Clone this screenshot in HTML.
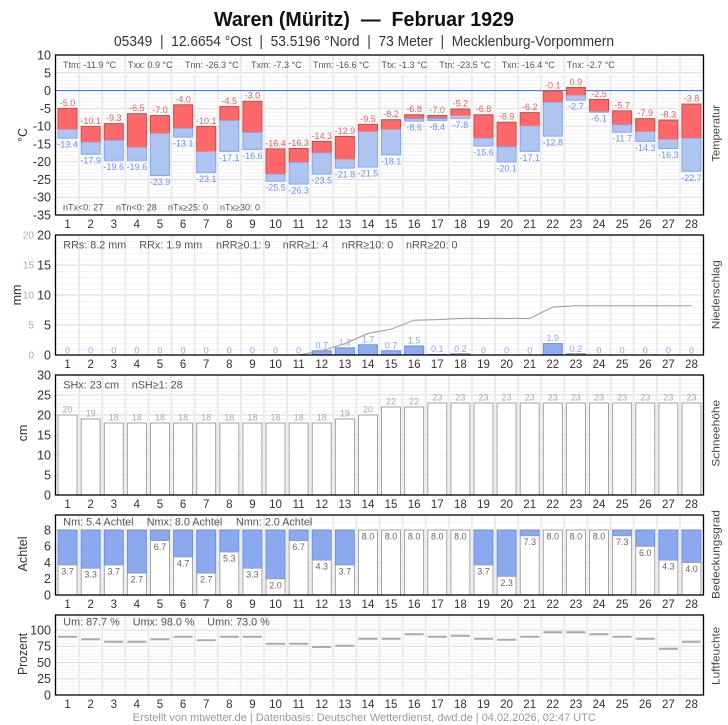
<!DOCTYPE html>
<html><head><meta charset="utf-8">
<style>
html,body{margin:0;padding:0;background:#fff;}
svg{display:block;}
text{font-family:"Liberation Sans",Arial,sans-serif;}
.dl{font-size:11.5px;fill:#333;text-anchor:middle}
.tr{font-size:9px;fill:#e06060;text-anchor:middle}
.tb{font-size:9px;fill:#7090e8;text-anchor:middle}
.pl{font-size:9px;fill:#8aa5ee;text-anchor:middle}
.sl{font-size:9px;fill:#aaa;text-anchor:middle}
.cl{font-size:9px;fill:#666;text-anchor:middle}
.st{font-size:9px;fill:#555}
.st2{font-size:10.8px;fill:#555}
.yl{font-size:12.5px;fill:#333;text-anchor:end}
.yg{font-size:10px;fill:#aaa;text-anchor:end}
.rl{font-size:11px;fill:#444;text-anchor:middle}
.ll{font-size:12.5px;fill:#333;text-anchor:middle}
.r{fill:#ff6868;stroke:#d04848;stroke-width:1}
.b{fill:#aec5f2;stroke:#86a6ea;stroke-width:1}
.p{fill:#8eacef;stroke:#6a8de3;stroke-width:1}
.s{fill:#fff;stroke:#a0a0a0;stroke-width:1}
.cb{fill:#8aa9ee;stroke:#6d8fe3;stroke-width:1}
.h{stroke:#aaa;stroke-width:2}
.mj{stroke:#dedede;stroke-width:1}
.pre{white-space:pre}
</style></head>
<body>
<svg width="728" height="725" viewBox="0 0 728 725" xmlns="http://www.w3.org/2000/svg">
<defs>
<pattern id="mt" x="0" y="55" width="20" height="3.5556" patternUnits="userSpaceOnUse"><rect x="0" y="0" width="20" height="0.8" fill="#f1f1f1"/></pattern>
<pattern id="mp" x="0" y="235" width="20" height="6" patternUnits="userSpaceOnUse"><rect x="0" y="0" width="20" height="0.8" fill="#f1f1f1"/></pattern>
<pattern id="ms" x="0" y="375" width="20" height="4" patternUnits="userSpaceOnUse"><rect x="0" y="0" width="20" height="0.8" fill="#f1f1f1"/></pattern>
<pattern id="mc" x="0" y="595" width="20" height="8.125" patternUnits="userSpaceOnUse"><rect x="0" y="0" width="20" height="0.8" fill="#f1f1f1"/></pattern>
<pattern id="mh" x="0" y="695" width="20" height="3.25" patternUnits="userSpaceOnUse"><rect x="0" y="0" width="20" height="0.8" fill="#f1f1f1"/></pattern>
</defs>
<rect width="728" height="725" fill="#fff"/>

<!-- Title -->
<text class="pre" x="364" y="26" text-anchor="middle" font-size="20" font-weight="bold" fill="#111" textLength="300" lengthAdjust="spacingAndGlyphs">Waren (Müritz)  —  Februar 1929</text>
<text class="pre" x="364" y="46" text-anchor="middle" font-size="14.5" fill="#333" textLength="500" lengthAdjust="spacingAndGlyphs">05349  |  12.6654 °Ost  |  53.5196 °Nord  |  73 Meter  |  Mecklenburg-Vorpommern</text>

<!-- minor grids -->
<rect x="56" y="55" width="647" height="160" fill="url(#mt)"/>
<rect x="56" y="235" width="647" height="120" fill="url(#mp)"/>
<rect x="56" y="375" width="647" height="120" fill="url(#ms)"/>
<rect x="56" y="515" width="647" height="80" fill="url(#mc)"/>
<rect x="56" y="615" width="647" height="80" fill="url(#mh)"/>

<!-- major grids -->
<path class="mj" d="M56 72.78H703M56 108.33H703M56 126.11H703M56 143.89H703M56 161.67H703M56 179.44H703M56 197.22H703
M56 265H703M56 295H703M56 325H703
M56 395H703M56 415H703M56 435H703M56 455H703M56 475H703
M56 530H703M56 546.25H703M56 562.5H703M56 578.75H703
M56 630H703M56 646.25H703M56 662.5H703M56 678.75H703"/>

<!-- vertical day lines -->
<path stroke="#ebebeb" stroke-width="2" d="M79.11 55V695M102.21 55V695M125.32 55V695M148.43 55V695M171.54 55V695M194.64 55V695M217.75 55V695M240.86 55V695M263.96 55V695M287.07 55V695M310.18 55V695M333.29 55V695M356.39 55V695M379.5 55V695M402.61 55V695M425.71 55V695M448.82 55V695M471.93 55V695M495.04 55V695M518.14 55V695M541.25 55V695M564.36 55V695M587.46 55V695M610.57 55V695M633.68 55V695M656.79 55V695M679.89 55V695"/>
<rect x="50" y="215.7" width="660" height="18.6" fill="#fff"/>
<rect x="50" y="355.7" width="660" height="18.6" fill="#fff"/>
<rect x="50" y="495.7" width="660" height="18.6" fill="#fff"/>
<rect x="50" y="595.7" width="660" height="18.6" fill="#fff"/>

<!-- zero line -->
<line x1="56" x2="703" y1="90.56" y2="90.56" stroke="#5a7fd8" stroke-width="1.2"/>

<!-- cumulative precipitation -->
<polyline fill="none" stroke="#9a9a9a" stroke-width="1" points="298.63,355 321.73,350.8 344.84,343.6 367.95,333.4 391.05,329.2 414.16,320.2 437.27,319.6 460.38,318.4 483.48,318.4 506.59,318.4 529.7,318.4 552.8,307 575.91,305.8 599.02,305.8 622.13,305.8 645.23,305.8 668.34,305.8 691.45,305.8"/>

<!-- Day groups -->
<g transform="translate(67.55 0)">
<rect class="r" x="-9.5" y="108.33" width="19" height="20.98"/><rect class="b" x="-9.5" y="129.31" width="19" height="8.89"/>
<text class="tr" y="105.8">-5.0</text><text class="tb" y="147.7">-13.4</text><text class="dl" y="228">1</text>
<text class="pl" y="353.5">0</text><text class="dl" y="368">1</text>
<rect class="s" x="-9.5" y="415" width="19" height="80"/><text class="sl" y="412.5">20</text><text class="dl" y="508">1</text>
<rect class="cb" x="-9.5" y="530" width="19" height="34.94"/><rect class="s" x="-9.5" y="564.94" width="19" height="30.06"/><text class="cl" y="574.4">3.7</text><text class="dl" y="608">1</text>
<line class="h" x1="-9.5" x2="9.5" y1="636.7" y2="636.7"/><text class="dl" y="708">1</text>
</g>
<g transform="translate(90.66 0)">
<rect class="r" x="-9.5" y="126.47" width="19" height="15.64"/><rect class="b" x="-9.5" y="142.11" width="19" height="12.09"/>
<text class="tr" y="124">-10.1</text><text class="tb" y="163.7">-17.9</text><text class="dl" y="228">2</text>
<text class="pl" y="353.5">0</text><text class="dl" y="368">2</text>
<rect class="s" x="-9.5" y="419" width="19" height="76"/><text class="sl" y="416.5">19</text><text class="dl" y="508">2</text>
<rect class="cb" x="-9.5" y="530" width="19" height="38.19"/><rect class="s" x="-9.5" y="568.19" width="19" height="26.81"/><text class="cl" y="577.7">3.3</text><text class="dl" y="608">2</text>
<line class="h" x1="-9.5" x2="9.5" y1="639.3" y2="639.3"/><text class="dl" y="708">2</text>
</g>
<g transform="translate(113.77 0)">
<rect class="r" x="-9.5" y="123.62" width="19" height="16.71"/><rect class="b" x="-9.5" y="140.33" width="19" height="19.92"/>
<text class="tr" y="121.1">-9.3</text><text class="tb" y="169.8">-19.6</text><text class="dl" y="228">3</text>
<text class="pl" y="353.5">0</text><text class="dl" y="368">3</text>
<rect class="s" x="-9.5" y="423" width="19" height="72"/><text class="sl" y="420.5">18</text><text class="dl" y="508">3</text>
<rect class="cb" x="-9.5" y="530" width="19" height="34.94"/><rect class="s" x="-9.5" y="564.94" width="19" height="30.06"/><text class="cl" y="574.4">3.7</text><text class="dl" y="608">3</text>
<line class="h" x1="-9.5" x2="9.5" y1="641.7" y2="641.7"/><text class="dl" y="708">3</text>
</g>
<g transform="translate(136.87 0)">
<rect class="r" x="-9.5" y="113.67" width="19" height="33.42"/><rect class="b" x="-9.5" y="147.09" width="19" height="13.16"/>
<text class="tr" y="111.2">-6.5</text><text class="tb" y="169.8">-19.6</text><text class="dl" y="228">4</text>
<text class="pl" y="353.5">0</text><text class="dl" y="368">4</text>
<rect class="s" x="-9.5" y="423" width="19" height="72"/><text class="sl" y="420.5">18</text><text class="dl" y="508">4</text>
<rect class="cb" x="-9.5" y="530" width="19" height="43.06"/><rect class="s" x="-9.5" y="573.06" width="19" height="21.94"/><text class="cl" y="582.6">2.7</text><text class="dl" y="608">4</text>
<line class="h" x1="-9.5" x2="9.5" y1="641.7" y2="641.7"/><text class="dl" y="708">4</text>
</g>
<g transform="translate(159.98 0)">
<rect class="r" x="-9.5" y="115.44" width="19" height="17.78"/><rect class="b" x="-9.5" y="133.22" width="19" height="42.31"/>
<text class="tr" y="112.9">-7.0</text><text class="tb" y="185">-23.9</text><text class="dl" y="228">5</text>
<text class="pl" y="353.5">0</text><text class="dl" y="368">5</text>
<rect class="s" x="-9.5" y="423" width="19" height="72"/><text class="sl" y="420.5">18</text><text class="dl" y="508">5</text>
<rect class="cb" x="-9.5" y="530" width="19" height="10.56"/><rect class="s" x="-9.5" y="540.56" width="19" height="54.44"/><text class="cl" y="550.1">6.7</text><text class="dl" y="608">5</text>
<line class="h" x1="-9.5" x2="9.5" y1="639.3" y2="639.3"/><text class="dl" y="708">5</text>
</g>
<g transform="translate(183.09 0)">
<rect class="r" x="-9.5" y="104.78" width="19" height="23.47"/><rect class="b" x="-9.5" y="128.25" width="19" height="8.89"/>
<text class="tr" y="102.3">-4.0</text><text class="tb" y="146.6">-13.1</text><text class="dl" y="228">6</text>
<text class="pl" y="353.5">0</text><text class="dl" y="368">6</text>
<rect class="s" x="-9.5" y="423" width="19" height="72"/><text class="sl" y="420.5">18</text><text class="dl" y="508">6</text>
<rect class="cb" x="-9.5" y="530" width="19" height="26.81"/><rect class="s" x="-9.5" y="556.81" width="19" height="38.19"/><text class="cl" y="566.3">4.7</text><text class="dl" y="608">6</text>
<line class="h" x1="-9.5" x2="9.5" y1="636.7" y2="636.7"/><text class="dl" y="708">6</text>
</g>
<g transform="translate(206.2 0)">
<rect class="r" x="-9.5" y="126.47" width="19" height="24.89"/><rect class="b" x="-9.5" y="151.36" width="19" height="21.33"/>
<text class="tr" y="124">-10.1</text><text class="tb" y="182.2">-23.1</text><text class="dl" y="228">7</text>
<text class="pl" y="353.5">0</text><text class="dl" y="368">7</text>
<rect class="s" x="-9.5" y="423" width="19" height="72"/><text class="sl" y="420.5">18</text><text class="dl" y="508">7</text>
<rect class="cb" x="-9.5" y="530" width="19" height="43.06"/><rect class="s" x="-9.5" y="573.06" width="19" height="21.94"/><text class="cl" y="582.6">2.7</text><text class="dl" y="608">7</text>
<line class="h" x1="-9.5" x2="9.5" y1="640.3" y2="640.3"/><text class="dl" y="708">7</text>
</g>
<g transform="translate(229.3 0)">
<rect class="r" x="-9.5" y="106.56" width="19" height="13.86"/><rect class="b" x="-9.5" y="120.42" width="19" height="30.94"/>
<text class="tr" y="104.1">-4.5</text><text class="tb" y="160.9">-17.1</text><text class="dl" y="228">8</text>
<text class="pl" y="353.5">0</text><text class="dl" y="368">8</text>
<rect class="s" x="-9.5" y="423" width="19" height="72"/><text class="sl" y="420.5">18</text><text class="dl" y="508">8</text>
<rect class="cb" x="-9.5" y="530" width="19" height="21.94"/><rect class="s" x="-9.5" y="551.94" width="19" height="43.06"/><text class="cl" y="561.4">5.3</text><text class="dl" y="608">8</text>
<line class="h" x1="-9.5" x2="9.5" y1="636.7" y2="636.7"/><text class="dl" y="708">8</text>
</g>
<g transform="translate(252.41 0)">
<rect class="r" x="-9.5" y="101.22" width="19" height="31.29"/><rect class="b" x="-9.5" y="132.51" width="19" height="17.07"/>
<text class="tr" y="98.7">-3.0</text><text class="tb" y="159.1">-16.6</text><text class="dl" y="228">9</text>
<text class="pl" y="353.5">0</text><text class="dl" y="368">9</text>
<rect class="s" x="-9.5" y="423" width="19" height="72"/><text class="sl" y="420.5">18</text><text class="dl" y="508">9</text>
<rect class="cb" x="-9.5" y="530" width="19" height="38.19"/><rect class="s" x="-9.5" y="568.19" width="19" height="26.81"/><text class="cl" y="577.7">3.3</text><text class="dl" y="608">9</text>
<line class="h" x1="-9.5" x2="9.5" y1="636.7" y2="636.7"/><text class="dl" y="708">9</text>
</g>
<g transform="translate(275.52 0)">
<rect class="r" x="-9.5" y="148.87" width="19" height="25.24"/><rect class="b" x="-9.5" y="174.11" width="19" height="7.11"/>
<text class="tr" y="146.4">-16.4</text><text class="tb" y="190.7">-25.5</text><text class="dl" y="228">10</text>
<text class="pl" y="353.5">0</text><text class="dl" y="368">10</text>
<rect class="s" x="-9.5" y="423" width="19" height="72"/><text class="sl" y="420.5">18</text><text class="dl" y="508">10</text>
<rect class="cb" x="-9.5" y="530" width="19" height="48.75"/><rect class="s" x="-9.5" y="578.75" width="19" height="16.25"/><text class="cl" y="588.3">2.0</text><text class="dl" y="608">10</text>
<line class="h" x1="-9.5" x2="9.5" y1="643.7" y2="643.7"/><text class="dl" y="708">10</text>
</g>
<g transform="translate(298.63 0)">
<rect class="r" x="-9.5" y="148.51" width="19" height="13.87"/><rect class="b" x="-9.5" y="162.38" width="19" height="21.69"/>
<text class="tr" y="146">-16.3</text><text class="tb" y="193.6">-26.3</text><text class="dl" y="228">11</text>
<text class="pl" y="353.5">0</text><text class="dl" y="368">11</text>
<rect class="s" x="-9.5" y="423" width="19" height="72"/><text class="sl" y="420.5">18</text><text class="dl" y="508">11</text>
<rect class="cb" x="-9.5" y="530" width="19" height="10.56"/><rect class="s" x="-9.5" y="540.56" width="19" height="54.44"/><text class="cl" y="550.1">6.7</text><text class="dl" y="608">11</text>
<line class="h" x1="-9.5" x2="9.5" y1="643.7" y2="643.7"/><text class="dl" y="708">11</text>
</g>
<g transform="translate(321.73 0)">
<rect class="r" x="-9.5" y="141.4" width="19" height="11.38"/><rect class="b" x="-9.5" y="152.78" width="19" height="21.33"/>
<text class="tr" y="138.9">-14.3</text><text class="tb" y="183.6">-23.5</text><text class="dl" y="228">12</text>
<rect class="p" x="-9.5" y="350.8" width="19" height="4.2"/><text class="pl" y="348.3">0.7</text><text class="dl" y="368">12</text>
<rect class="s" x="-9.5" y="423" width="19" height="72"/><text class="sl" y="420.5">18</text><text class="dl" y="508">12</text>
<rect class="cb" x="-9.5" y="530" width="19" height="30.06"/><rect class="s" x="-9.5" y="560.06" width="19" height="34.94"/><text class="cl" y="569.6">4.3</text><text class="dl" y="608">12</text>
<line class="h" x1="-9.5" x2="9.5" y1="647" y2="647"/><text class="dl" y="708">12</text>
</g>
<g transform="translate(344.84 0)">
<rect class="r" x="-9.5" y="136.42" width="19" height="22.76"/><rect class="b" x="-9.5" y="159.18" width="19" height="8.89"/>
<text class="tr" y="133.9">-12.9</text><text class="tb" y="177.6">-21.8</text><text class="dl" y="228">13</text>
<rect class="p" x="-9.5" y="347.8" width="19" height="7.2"/><text class="pl" y="345.3">1.2</text><text class="dl" y="368">13</text>
<rect class="s" x="-9.5" y="419" width="19" height="76"/><text class="sl" y="416.5">19</text><text class="dl" y="508">13</text>
<rect class="cb" x="-9.5" y="530" width="19" height="34.94"/><rect class="s" x="-9.5" y="564.94" width="19" height="30.06"/><text class="cl" y="574.4">3.7</text><text class="dl" y="608">13</text>
<line class="h" x1="-9.5" x2="9.5" y1="645.7" y2="645.7"/><text class="dl" y="708">13</text>
</g>
<g transform="translate(367.95 0)">
<rect class="r" x="-9.5" y="124.33" width="19" height="7.12"/><rect class="b" x="-9.5" y="131.45" width="19" height="35.55"/>
<text class="tr" y="121.8">-9.5</text><text class="tb" y="176.5">-21.5</text><text class="dl" y="228">14</text>
<rect class="p" x="-9.5" y="344.8" width="19" height="10.2"/><text class="pl" y="342.3">1.7</text><text class="dl" y="368">14</text>
<rect class="s" x="-9.5" y="415" width="19" height="80"/><text class="sl" y="412.5">20</text><text class="dl" y="508">14</text>
<rect class="s" x="-9.5" y="530" width="19" height="65"/><text class="cl" y="539.5">8.0</text><text class="dl" y="608">14</text>
<line class="h" x1="-9.5" x2="9.5" y1="638.7" y2="638.7"/><text class="dl" y="708">14</text>
</g>
<g transform="translate(391.05 0)">
<rect class="r" x="-9.5" y="119.71" width="19" height="9.6"/><rect class="b" x="-9.5" y="129.31" width="19" height="25.6"/>
<text class="tr" y="117.2">-8.2</text><text class="tb" y="164.4">-18.1</text><text class="dl" y="228">15</text>
<rect class="p" x="-9.5" y="350.8" width="19" height="4.2"/><text class="pl" y="348.3">0.7</text><text class="dl" y="368">15</text>
<rect class="s" x="-9.5" y="407" width="19" height="88"/><text class="sl" y="404.5">22</text><text class="dl" y="508">15</text>
<rect class="s" x="-9.5" y="530" width="19" height="65"/><text class="cl" y="539.5">8.0</text><text class="dl" y="608">15</text>
<line class="h" x1="-9.5" x2="9.5" y1="638.7" y2="638.7"/><text class="dl" y="708">15</text>
</g>
<g transform="translate(414.16 0)">
<rect class="r" x="-9.5" y="114.73" width="19" height="3.91"/><rect class="b" x="-9.5" y="118.64" width="19" height="2.49"/>
<text class="tr" y="112.2">-6.8</text><text class="tb" y="130.6">-8.6</text><text class="dl" y="228">16</text>
<rect class="p" x="-9.5" y="346" width="19" height="9"/><text class="pl" y="343.5">1.5</text><text class="dl" y="368">16</text>
<rect class="s" x="-9.5" y="407" width="19" height="88"/><text class="sl" y="404.5">22</text><text class="dl" y="508">16</text>
<rect class="s" x="-9.5" y="530" width="19" height="65"/><text class="cl" y="539.5">8.0</text><text class="dl" y="608">16</text>
<line class="h" x1="-9.5" x2="9.5" y1="634.3" y2="634.3"/><text class="dl" y="708">16</text>
</g>
<g transform="translate(437.27 0)">
<rect class="r" x="-9.5" y="115.44" width="19" height="3.2"/><rect class="b" x="-9.5" y="118.64" width="19" height="1.78"/>
<text class="tr" y="112.9">-7.0</text><text class="tb" y="129.9">-8.4</text><text class="dl" y="228">17</text>
<rect class="p" x="-9.5" y="354.4" width="19" height="0.6"/><text class="pl" y="352">0.1</text><text class="dl" y="368">17</text>
<rect class="s" x="-9.5" y="403" width="19" height="92"/><text class="sl" y="400.5">23</text><text class="dl" y="508">17</text>
<rect class="s" x="-9.5" y="530" width="19" height="65"/><text class="cl" y="539.5">8.0</text><text class="dl" y="608">17</text>
<line class="h" x1="-9.5" x2="9.5" y1="636.7" y2="636.7"/><text class="dl" y="708">17</text>
</g>
<g transform="translate(460.38 0)">
<rect class="r" x="-9.5" y="109.04" width="19" height="6.4"/><rect class="b" x="-9.5" y="115.44" width="19" height="2.85"/>
<text class="tr" y="106.5">-5.2</text><text class="tb" y="127.8">-7.8</text><text class="dl" y="228">18</text>
<rect class="p" x="-9.5" y="353.8" width="19" height="1.2"/><text class="pl" y="352">0.2</text><text class="dl" y="368">18</text>
<rect class="s" x="-9.5" y="403" width="19" height="92"/><text class="sl" y="400.5">23</text><text class="dl" y="508">18</text>
<rect class="s" x="-9.5" y="530" width="19" height="65"/><text class="cl" y="539.5">8.0</text><text class="dl" y="608">18</text>
<line class="h" x1="-9.5" x2="9.5" y1="635.7" y2="635.7"/><text class="dl" y="708">18</text>
</g>
<g transform="translate(483.48 0)">
<rect class="r" x="-9.5" y="114.73" width="19" height="23.47"/><rect class="b" x="-9.5" y="138.2" width="19" height="7.82"/>
<text class="tr" y="112.2">-6.8</text><text class="tb" y="155.5">-15.6</text><text class="dl" y="228">19</text>
<text class="pl" y="353.5">0</text><text class="dl" y="368">19</text>
<rect class="s" x="-9.5" y="403" width="19" height="92"/><text class="sl" y="400.5">23</text><text class="dl" y="508">19</text>
<rect class="cb" x="-9.5" y="530" width="19" height="34.94"/><rect class="s" x="-9.5" y="564.94" width="19" height="30.06"/><text class="cl" y="574.4">3.7</text><text class="dl" y="608">19</text>
<line class="h" x1="-9.5" x2="9.5" y1="638.7" y2="638.7"/><text class="dl" y="708">19</text>
</g>
<g transform="translate(506.59 0)">
<rect class="r" x="-9.5" y="122.2" width="19" height="24.53"/><rect class="b" x="-9.5" y="146.73" width="19" height="15.29"/>
<text class="tr" y="119.7">-8.9</text><text class="tb" y="171.5">-20.1</text><text class="dl" y="228">20</text>
<text class="pl" y="353.5">0</text><text class="dl" y="368">20</text>
<rect class="s" x="-9.5" y="403" width="19" height="92"/><text class="sl" y="400.5">23</text><text class="dl" y="508">20</text>
<rect class="cb" x="-9.5" y="530" width="19" height="46.31"/><rect class="s" x="-9.5" y="576.31" width="19" height="18.69"/><text class="cl" y="585.8">2.3</text><text class="dl" y="608">20</text>
<line class="h" x1="-9.5" x2="9.5" y1="639.7" y2="639.7"/><text class="dl" y="708">20</text>
</g>
<g transform="translate(529.7 0)">
<rect class="r" x="-9.5" y="112.6" width="19" height="13.16"/><rect class="b" x="-9.5" y="125.76" width="19" height="25.6"/>
<text class="tr" y="110.1">-6.2</text><text class="tb" y="160.9">-17.1</text><text class="dl" y="228">21</text>
<text class="pl" y="353.5">0</text><text class="dl" y="368">21</text>
<rect class="s" x="-9.5" y="403" width="19" height="92"/><text class="sl" y="400.5">23</text><text class="dl" y="508">21</text>
<rect class="cb" x="-9.5" y="530" width="19" height="5.69"/><rect class="s" x="-9.5" y="535.69" width="19" height="59.31"/><text class="cl" y="545.2">7.3</text><text class="dl" y="608">21</text>
<line class="h" x1="-9.5" x2="9.5" y1="636.7" y2="636.7"/><text class="dl" y="708">21</text>
</g>
<g transform="translate(552.8 0)">
<rect class="r" x="-9.5" y="90.91" width="19" height="11.38"/><rect class="b" x="-9.5" y="102.29" width="19" height="33.78"/>
<text class="tr" y="88.4">-0.1</text><text class="tb" y="145.6">-12.8</text><text class="dl" y="228">22</text>
<rect class="p" x="-9.5" y="343.6" width="19" height="11.4"/><text class="pl" y="341.1">1.9</text><text class="dl" y="368">22</text>
<rect class="s" x="-9.5" y="403" width="19" height="92"/><text class="sl" y="400.5">23</text><text class="dl" y="508">22</text>
<rect class="s" x="-9.5" y="530" width="19" height="65"/><text class="cl" y="539.5">8.0</text><text class="dl" y="608">22</text>
<line class="h" x1="-9.5" x2="9.5" y1="632.3" y2="632.3"/><text class="dl" y="708">22</text>
</g>
<g transform="translate(575.91 0)">
<rect class="r" x="-9.5" y="87.36" width="19" height="7.82"/><rect class="b" x="-9.5" y="95.18" width="19" height="4.98"/>
<text class="tr" y="84.9">0.9</text><text class="tb" y="109.7">-2.7</text><text class="dl" y="228">23</text>
<rect class="p" x="-9.5" y="353.8" width="19" height="1.2"/><text class="pl" y="352">0.2</text><text class="dl" y="368">23</text>
<rect class="s" x="-9.5" y="403" width="19" height="92"/><text class="sl" y="400.5">23</text><text class="dl" y="508">23</text>
<rect class="s" x="-9.5" y="530" width="19" height="65"/><text class="cl" y="539.5">8.0</text><text class="dl" y="608">23</text>
<line class="h" x1="-9.5" x2="9.5" y1="632.3" y2="632.3"/><text class="dl" y="708">23</text>
</g>
<g transform="translate(599.02 0)">
<rect class="r" x="-9.5" y="99.44" width="19" height="11.74"/><rect class="b" x="-9.5" y="111.18" width="19" height="1.06"/>
<text class="tr" y="96.9">-2.5</text><text class="tb" y="121.7">-6.1</text><text class="dl" y="228">24</text>
<text class="pl" y="353.5">0</text><text class="dl" y="368">24</text>
<rect class="s" x="-9.5" y="403" width="19" height="92"/><text class="sl" y="400.5">23</text><text class="dl" y="508">24</text>
<rect class="s" x="-9.5" y="530" width="19" height="65"/><text class="cl" y="539.5">8.0</text><text class="dl" y="608">24</text>
<line class="h" x1="-9.5" x2="9.5" y1="634.3" y2="634.3"/><text class="dl" y="708">24</text>
</g>
<g transform="translate(622.13 0)">
<rect class="r" x="-9.5" y="110.82" width="19" height="13.87"/><rect class="b" x="-9.5" y="124.69" width="19" height="7.47"/>
<text class="tr" y="108.3">-5.7</text><text class="tb" y="141.7">-11.7</text><text class="dl" y="228">25</text>
<text class="pl" y="353.5">0</text><text class="dl" y="368">25</text>
<rect class="s" x="-9.5" y="403" width="19" height="92"/><text class="sl" y="400.5">23</text><text class="dl" y="508">25</text>
<rect class="cb" x="-9.5" y="530" width="19" height="5.69"/><rect class="s" x="-9.5" y="535.69" width="19" height="59.31"/><text class="cl" y="545.2">7.3</text><text class="dl" y="608">25</text>
<line class="h" x1="-9.5" x2="9.5" y1="636.7" y2="636.7"/><text class="dl" y="708">25</text>
</g>
<g transform="translate(645.23 0)">
<rect class="r" x="-9.5" y="118.64" width="19" height="12.81"/><rect class="b" x="-9.5" y="131.45" width="19" height="9.95"/>
<text class="tr" y="116.1">-7.9</text><text class="tb" y="150.9">-14.3</text><text class="dl" y="228">26</text>
<text class="pl" y="353.5">0</text><text class="dl" y="368">26</text>
<rect class="s" x="-9.5" y="403" width="19" height="92"/><text class="sl" y="400.5">23</text><text class="dl" y="508">26</text>
<rect class="cb" x="-9.5" y="530" width="19" height="16.25"/><rect class="s" x="-9.5" y="546.25" width="19" height="48.75"/><text class="cl" y="555.8">6.0</text><text class="dl" y="608">26</text>
<line class="h" x1="-9.5" x2="9.5" y1="638.7" y2="638.7"/><text class="dl" y="708">26</text>
</g>
<g transform="translate(668.34 0)">
<rect class="r" x="-9.5" y="120.07" width="19" height="19.2"/><rect class="b" x="-9.5" y="139.27" width="19" height="9.24"/>
<text class="tr" y="117.6">-8.3</text><text class="tb" y="158">-16.3</text><text class="dl" y="228">27</text>
<text class="pl" y="353.5">0</text><text class="dl" y="368">27</text>
<rect class="s" x="-9.5" y="403" width="19" height="92"/><text class="sl" y="400.5">23</text><text class="dl" y="508">27</text>
<rect class="cb" x="-9.5" y="530" width="19" height="30.06"/><rect class="s" x="-9.5" y="560.06" width="19" height="34.94"/><text class="cl" y="569.6">4.3</text><text class="dl" y="608">27</text>
<line class="h" x1="-9.5" x2="9.5" y1="648.7" y2="648.7"/><text class="dl" y="708">27</text>
</g>
<g transform="translate(691.45 0)">
<rect class="r" x="-9.5" y="104.07" width="19" height="34.13"/><rect class="b" x="-9.5" y="138.2" width="19" height="33.07"/>
<text class="tr" y="101.6">-3.8</text><text class="tb" y="180.8">-22.7</text><text class="dl" y="228">28</text>
<text class="pl" y="353.5">0</text><text class="dl" y="368">28</text>
<rect class="s" x="-9.5" y="403" width="19" height="92"/><text class="sl" y="400.5">23</text><text class="dl" y="508">28</text>
<rect class="cb" x="-9.5" y="530" width="19" height="32.5"/><rect class="s" x="-9.5" y="562.5" width="19" height="32.5"/><text class="cl" y="572">4.0</text><text class="dl" y="608">28</text>
<line class="h" x1="-9.5" x2="9.5" y1="641.7" y2="641.7"/><text class="dl" y="708">28</text>
</g>

<!-- Frames -->
<g fill="none" stroke="#000" stroke-width="1.3">
<rect x="55.5" y="55" width="648" height="160"/>
<rect x="55.5" y="235" width="648" height="120"/>
<rect x="55.5" y="375" width="648" height="120"/>
<rect x="55.5" y="515" width="648" height="80"/>
<rect x="55.5" y="615" width="648" height="80"/>
</g>

<!-- Stats -->
<text class="st" x="63" y="68">Ttm: -11.9 °C</text>
<text class="st" x="128" y="68">Txx: 0.9 °C</text>
<text class="st" x="185" y="68">Tnn: -26.3 °C</text>
<text class="st" x="251" y="68">Txm: -7.3 °C</text>
<text class="st" x="313" y="68">Tnm: -16.6 °C</text>
<text class="st" x="381.5" y="68">Ttx: -1.3 °C</text>
<text class="st" x="439.3" y="68">Ttn: -23.5 °C</text>
<text class="st" x="501.7" y="68">Txn: -16.4 °C</text>
<text class="st" x="566.7" y="68">Tnx: -2.7 °C</text>
<text class="st" x="63" y="210.5">nTx&lt;0: 27</text>
<text class="st" x="116" y="210.5">nTn&lt;0: 28</text>
<text class="st" x="168" y="210.5">nTx≥25: 0</text>
<text class="st" x="220" y="210.5">nTx≥30: 0</text>

<text class="st2" x="63.3" y="248.5">RRs: 8.2 mm</text>
<text class="st2" x="139.3" y="248.5">RRx: 1.9 mm</text>
<text class="st2" x="216" y="248.5">nRR≥0.1: 9</text>
<text class="st2" x="282.7" y="248.5">nRR≥1: 4</text>
<text class="st2" x="341.7" y="248.5">nRR≥10: 0</text>
<text class="st2" x="406" y="248.5">nRR≥20: 0</text>

<text class="st2" x="63.3" y="388.5">SHx: 23 cm</text>
<text class="st2" x="131.7" y="388.5">nSH≥1: 28</text>

<text class="st2" x="63.3" y="525.5">Nm: 5.4 Achtel</text>
<text class="st2" x="146.7" y="525.5">Nmx: 8.0 Achtel</text>
<text class="st2" x="236" y="525.5">Nmn: 2.0 Achtel</text>

<text class="st2" x="63.3" y="625.5">Um: 87.7 %</text>
<text class="st2" x="132.7" y="625.5">Umx: 98.0 %</text>
<text class="st2" x="207.3" y="625.5">Umn: 73.0 %</text>

<!-- Y axis labels: temperature -->
<text class="yl" x="51" y="59.5">10</text>
<text class="yl" x="51" y="77.3">5</text>
<text class="yl" x="51" y="95">0</text>
<text class="yl" x="51" y="112.8">-5</text>
<text class="yl" x="51" y="130.6">-10</text>
<text class="yl" x="51" y="148.4">-15</text>
<text class="yl" x="51" y="166.2">-20</text>
<text class="yl" x="51" y="183.9">-25</text>
<text class="yl" x="51" y="201.7">-30</text>
<text class="yl" x="51" y="219.5">-35</text>
<!-- precip -->
<text class="yg" x="34" y="238.5">20</text>
<text class="yg" x="34" y="268.5">15</text>
<text class="yg" x="34" y="298.5">10</text>
<text class="yg" x="34" y="328.5">5</text>
<text class="yg" x="34" y="358.5">0</text>
<text class="yl" x="51" y="239.5">20</text>
<text class="yl" x="51" y="269.5">15</text>
<text class="yl" x="51" y="299.5">10</text>
<text class="yl" x="51" y="329.5">5</text>
<text class="yl" x="51" y="359.5">0</text>
<!-- snow -->
<text class="yl" x="51" y="379.5">30</text>
<text class="yl" x="51" y="399.5">25</text>
<text class="yl" x="51" y="419.5">20</text>
<text class="yl" x="51" y="439.5">15</text>
<text class="yl" x="51" y="459.5">10</text>
<text class="yl" x="51" y="479.5">5</text>
<text class="yl" x="51" y="499.5">0</text>
<!-- cloud -->
<text class="yl" x="51" y="534.5">8</text>
<text class="yl" x="51" y="550.7">6</text>
<text class="yl" x="51" y="567">4</text>
<text class="yl" x="51" y="583.2">2</text>
<text class="yl" x="51" y="599.5">0</text>
<!-- humidity -->
<text class="yl" x="51" y="634.5">100</text>
<text class="yl" x="51" y="650.7">75</text>
<text class="yl" x="51" y="667">50</text>
<text class="yl" x="51" y="683.2">25</text>
<text class="yl" x="51" y="699.5">0</text>

<!-- Left rotated labels -->
<text class="ll" transform="translate(27 135) rotate(-90)">°C</text>
<text class="ll" transform="translate(21 295) rotate(-90)">mm</text>
<text class="ll" transform="translate(27 433) rotate(-90)">cm</text>
<text class="ll" transform="translate(27 554) rotate(-90)" textLength="35" lengthAdjust="spacingAndGlyphs">Achtel</text>
<text class="ll" transform="translate(27 654) rotate(-90)" textLength="42" lengthAdjust="spacingAndGlyphs">Prozent</text>

<!-- Right rotated labels -->
<text class="rl" transform="translate(719.5 133.3) rotate(-90)" textLength="56.7" lengthAdjust="spacingAndGlyphs">Temperatur</text>
<text class="rl" transform="translate(719.5 294.7) rotate(-90)" textLength="69" lengthAdjust="spacingAndGlyphs">Niederschlag</text>
<text class="rl" transform="translate(719.5 433.3) rotate(-90)" textLength="66.7" lengthAdjust="spacingAndGlyphs">Schneehöhe</text>
<text class="rl" transform="translate(719.5 554.5) rotate(-90)" textLength="89" lengthAdjust="spacingAndGlyphs">Bedeckungsgrad</text>
<text class="rl" transform="translate(719.5 655.8) rotate(-90)" textLength="58.3" lengthAdjust="spacingAndGlyphs">Luftfeuchte</text>

<!-- Footer -->
<text x="364.3" y="721" text-anchor="middle" font-size="11" fill="#999" textLength="463" lengthAdjust="spacingAndGlyphs">Erstellt von mtwetter.de | Datenbasis: Deutscher Wetterdienst, dwd.de | 04.02.2026, 02:47 UTC</text>
</svg>
</body></html>
